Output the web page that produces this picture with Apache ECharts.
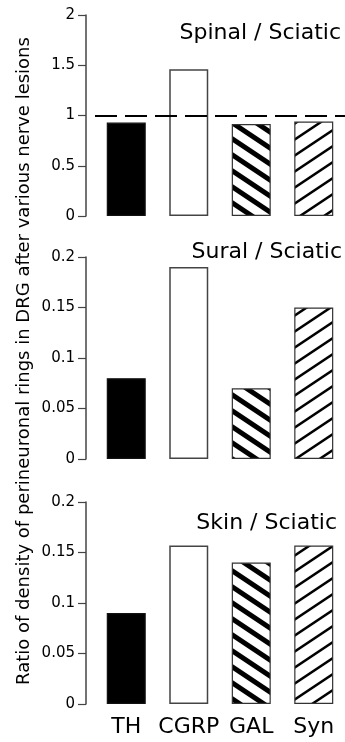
<!DOCTYPE html>
<html><head><meta charset="utf-8">
<script src="https://cdn.jsdelivr.net/npm/echarts@6/dist/echarts.min.js"></script>
<style>html,body{margin:0;padding:0;background:#fff}#c{width:345px;height:742px}</style>
</head><body><div id="c"></div>
<script>
// ---- data ----
const categories = ['TH', 'CGRP', 'GAL', 'Syn'];
const spinalRatio = [0.93, 1.46, 0.915, 0.94];
const suralRatio = [0.08, 0.19, 0.07, 0.15];
const skinRatio = [0.09, 0.157, 0.14, 0.157];
const panelTitles = ['Spinal / Sciatic', 'Sural / Sciatic', 'Skin / Sciatic'];
const spinalTicks = [0, 0.5, 1, 1.5, 2];
const smallTicks = [0, 0.05, 0.1, 0.15, 0.2];
const referenceLevel = 1;
const yAxisTitle = 'Ratio of density of perineuronal rings in DRG after various nerve lesions';

// ---- styles ----
const FONT = 'DejaVu Sans';
function hatch(dir, lw) {
  const c = document.createElement('canvas');
  c.width = 24; c.height = 16;
  const g = c.getContext('2d');
  g.fillStyle = '#fff'; g.fillRect(0, 0, 24, 16);
  g.strokeStyle = '#000'; g.lineWidth = lw;
  for (let k = -3; k <= 3; k++) {
    g.beginPath();
    if (dir === 'back') { g.moveTo(-24, k * 16 - 16); g.lineTo(48, k * 16 + 32); }
    else { g.moveTo(-24, k * 16 + 16); g.lineTo(48, k * 16 - 32); }
    g.stroke();
  }
  return { image: c, repeat: 'repeat' };
}
const barStyles = [
  { color: '#000', borderColor: '#111', borderWidth: 1.2 },
  { color: '#fff', borderColor: '#444', borderWidth: 1.5 },
  { color: hatch('back', 5), borderColor: '#333', borderWidth: 1.2 },
  { color: hatch('fwd', 2.5), borderColor: '#333', borderWidth: 1.2 }
];

const panels = [
  { values: spinalRatio, ticks: spinalTicks, top: 15, height: 201, titleTop: 22, titleRight: 4 },
  { values: suralRatio, ticks: smallTicks, top: 257, height: 202, titleTop: 241, titleRight: 3 },
  { values: skinRatio, ticks: smallTicks, top: 502, height: 202, titleTop: 512, titleRight: 8 }
];

const option = {
  animation: false,
  backgroundColor: '#fff',
  title: panels.map((p, i) => ({
    text: panelTitles[i], right: p.titleRight, top: p.titleTop, padding: 0,
    textStyle: { fontFamily: FONT, fontSize: 22, fontWeight: 'normal', color: '#000' }
  })),
  grid: panels.map(p => ({ left: 95, width: 257, top: p.top, height: p.height })),
  xAxis: panels.map((p, i) => ({
    type: 'category', gridIndex: i, data: categories,
    axisLine: { show: false }, axisTick: { show: false },
    axisLabel: { show: i === 2, interval: 0, hideOverlap: false, fontFamily: FONT, fontSize: 22, color: '#000', margin: 12 }
  })),
  yAxis: panels.map((p, i) => ({
    type: 'value', gridIndex: i, offset: 9,
    min: p.ticks[0], max: p.ticks[p.ticks.length - 1], interval: p.ticks[1] - p.ticks[0],
    axisLine: { show: true, lineStyle: { color: '#444', width: 1.5 } },
    axisTick: { show: true, length: 8, lineStyle: { color: '#444', width: 1.2 } },
    splitLine: { show: false },
    axisLabel: { fontFamily: FONT, fontSize: 15, color: '#000', margin: 11 }
  })),
  series: panels.map((p, i) => ({
    type: 'bar', xAxisIndex: i, yAxisIndex: i, barWidth: 39,
    data: p.values.map((v, j) => ({ value: v, itemStyle: barStyles[j] })),
    markLine: i === 0 ? {
      silent: true, symbol: 'none', label: { show: false },
      lineStyle: { color: '#000', width: 2, type: [22, 8] },
      data: [{ yAxis: referenceLevel }]
    } : undefined
  })),
  graphic: [{
    type: 'text', x: 24, y: 361, rotation: Math.PI / 2,
    style: { text: yAxisTitle, fontFamily: FONT, fontSize: 18, fill: '#000', align: 'center', verticalAlign: 'middle' }
  }]
};
const chart = echarts.init(document.getElementById('c'), null, { renderer: 'canvas' });
chart.setOption(option);
</script>
</body></html>
